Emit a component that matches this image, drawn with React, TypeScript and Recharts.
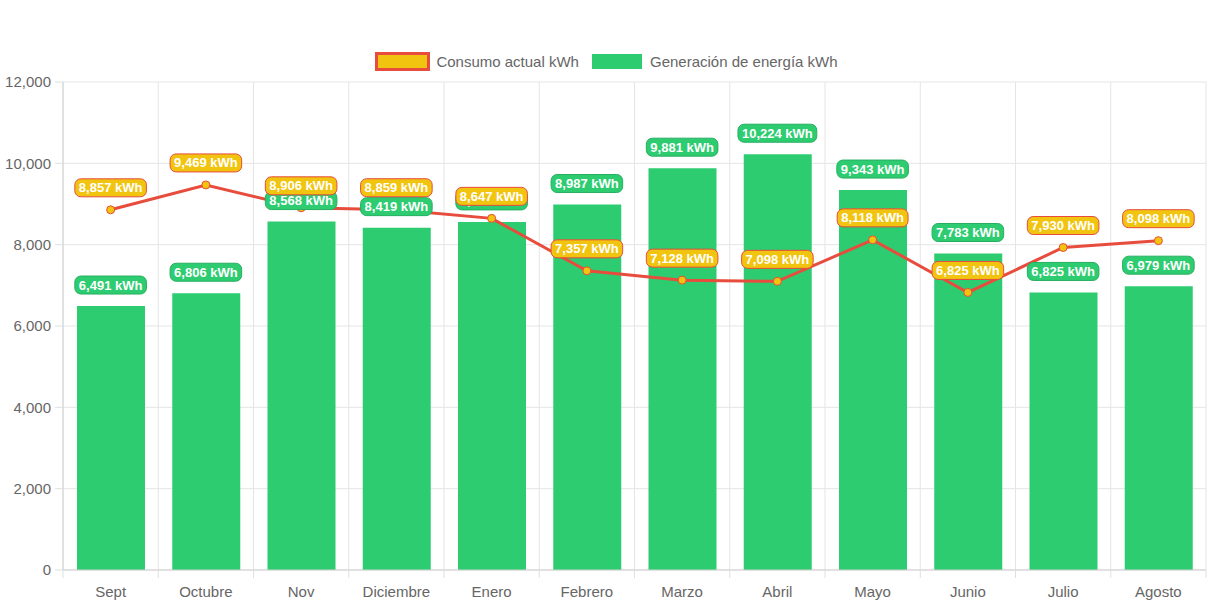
import React from 'react';
import { ComposedChart, Bar, Line, XAxis, YAxis, CartesianGrid, LabelList } from 'recharts';

const months = ['Sept', 'Octubre', 'Nov', 'Diciembre', 'Enero', 'Febrero', 'Marzo', 'Abril', 'Mayo', 'Junio', 'Julio', 'Agosto'];
const consumo = [8857, 9469, 8906, 8859, 8647, 7357, 7128, 7098, 8118, 6825, 7930, 8098];
const generacion = [6491, 6806, 8568, 8419, 8560, 8987, 9881, 10224, 9343, 7783, 6825, 6979];
const yTicks = [0, 2000, 4000, 6000, 8000, 10000, 12000];

const data = months.map((m, i) => ({ month: m, consumo: consumo[i], gen: generacion[i] }));

const W = 1213;
const H = 606;
const Y_W = 63;
const M_RIGHT = 7;
const STEP = (W - Y_W - M_RIGHT) / months.length;
const FONT = '"Liberation Sans", Arial, Helvetica, sans-serif';

const RED = '#e74c3c';
const YELLOW = '#f1c40f';
const GREEN = '#2ecc71';
const DARK_GREEN = '#27ae60';

let ctx: CanvasRenderingContext2D | null = null;
const textWidth = (t: string) => {
  if (!ctx) ctx = document.createElement('canvas').getContext('2d');
  if (!ctx) return t.length * 7;
  ctx.font = `bold 13px ${FONT}`;
  return ctx.measureText(t).width;
};

const fmt = (v: number) => v.toLocaleString('en-US');

const makeBadge = (fill: string, stroke: string, lift: number) => (props: any) => {
  const { x, y, width, value } = props;
  if (value == null) return null;
  const cx = width ? x + width / 2 : x;
  const cy = y - lift;
  const label = `${fmt(value)} kWh`;
  const w = textWidth(label) + 8;
  return (
    <g>
      <rect x={cx - w / 2} y={cy - 9} width={w} height={18} rx={6} ry={6} fill={fill} stroke={stroke} strokeWidth={1} />
      <text x={cx} y={cy + 4.5} textAnchor="middle" fill="#fff" fontSize={13} fontWeight="bold" fontFamily={FONT}>
        {label}
      </text>
    </g>
  );
};

const GreenBadge = makeBadge(GREEN, DARK_GREEN, 21);
const OrangeBadge = makeBadge(YELLOW, RED, 22);

const XTick = (props: any) => {
  const { x, y, payload, index } = props;
  return (
    <g>
      <line x1={x - STEP / 2} x2={x - STEP / 2} y1={y} y2={y + 8} stroke="#e0e0e0" />
      {index === months.length - 1 && <line x1={x + STEP / 2} x2={x + STEP / 2} y1={y} y2={y + 8} stroke="#e0e0e0" />}
      <text x={x} y={y + 27} textAnchor="middle" fill="#666" fontSize={15} fontFamily={FONT}>
        {payload.value}
      </text>
    </g>
  );
};

export default function App() {
  return (
    <div style={{ position: 'relative', width: W, height: H, fontFamily: FONT }}>
      <style>{'body{margin:0}'}</style>
      <div style={{ position: 'absolute', top: 52, left: 0, width: W, display: 'flex', justifyContent: 'center', alignItems: 'center', fontSize: 15, color: '#666' }}>
        <span style={{ display: 'inline-block', boxSizing: 'border-box', width: 55, height: 19, background: YELLOW, border: `3px solid ${RED}`, marginRight: 6 }} />
        <span style={{ marginRight: 13 }}>Consumo actual kWh</span>
        <span style={{ display: 'inline-block', boxSizing: 'border-box', width: 50, height: 15, background: GREEN, marginRight: 8 }} />
        <span>Generación de energía kWh</span>
      </div>
      <ComposedChart width={W} height={H} data={data} margin={{ top: 82, right: M_RIGHT, bottom: 6, left: 0 }}>
        <CartesianGrid
          stroke="#e5e5e5"
          verticalCoordinatesGenerator={({ offset }: any) =>
            Array.from({ length: months.length + 1 }, (_, i) => offset.left + (i * offset.width) / months.length)
          }
        />
        <XAxis
          dataKey="month"
          height={30}
          tickSize={0}
          tickMargin={0}
          tickLine={false}
          axisLine={{ stroke: '#d0d0d0' }}
          tick={<XTick />}
          interval={0}
        />
        <YAxis
          width={Y_W}
          domain={[0, 12000]}
          ticks={yTicks}
          tickFormatter={fmt}
          tickSize={8}
          tickMargin={4}
          tickLine={{ stroke: '#e0e0e0' }}
          axisLine={{ stroke: '#d0d0d0' }}
          tick={{ fill: '#666', fontSize: 15, fontFamily: FONT }}
        />
        <Bar dataKey="gen" fill={GREEN} barSize={68} isAnimationActive={false} />
        <Line
          dataKey="consumo"
          type="linear"
          stroke={RED}
          strokeWidth={3}
          dot={{ r: 4, fill: YELLOW, stroke: RED, strokeWidth: 1 }}
          activeDot={false}
          isAnimationActive={false}
        />
        <Line dataKey="gen" stroke="none" dot={false} activeDot={false} isAnimationActive={false}>
          <LabelList dataKey="gen" content={GreenBadge} />
        </Line>
        <Line dataKey="consumo" stroke="none" dot={false} activeDot={false} isAnimationActive={false}>
          <LabelList dataKey="consumo" content={OrangeBadge} />
        </Line>
      </ComposedChart>
    </div>
  );
}
